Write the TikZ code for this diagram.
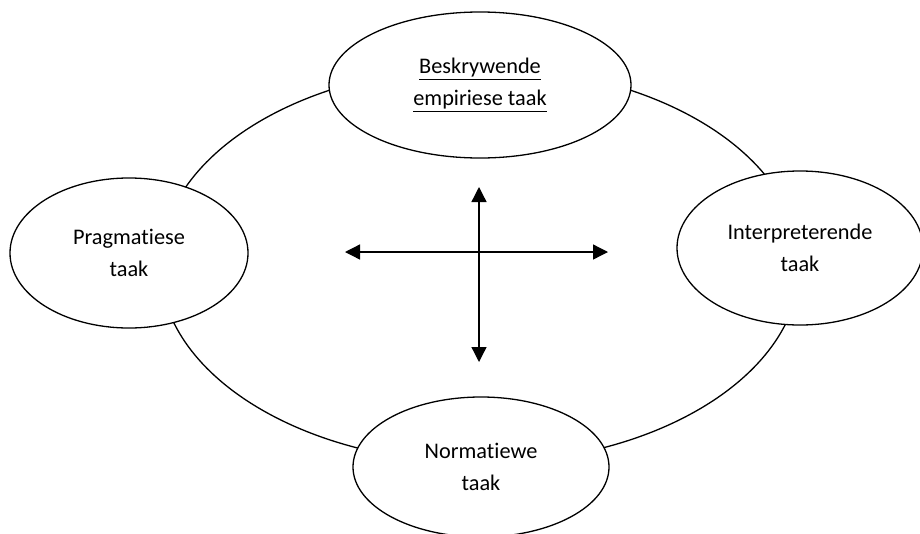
\documentclass[tikz,border=0pt]{standalone}
\usepackage{fontspec}
\setmainfont{Carlito}[Ligatures=CommonOff]
\usepackage{tikz}
\usetikzlibrary{shapes.geometric,arrows.meta}

\begin{document}
\begin{tikzpicture}[x=1pt, y=-1pt,
    task/.style={ellipse, draw, fill=white, line width=1.3pt, inner sep=0pt,
      align=center, font=\fontsize{22.3}{32}\selectfont},
    axis/.style={line width=1.3pt, {Triangle[length=15pt,width=15pt]}-{Triangle[length=15pt,width=15pt]}}]
  \useasboundingbox (0,0) rectangle (920,533);
  \node[ellipse, draw, line width=1.3pt, minimum width=640pt, minimum height=396pt] (ring) at (480, 265) {};
  \node[task, minimum width=302pt, minimum height=146pt] (top) at (480, 85)
    {\underline{Beskrywende}\\\underline{empiriese taak}};
  \node[task, minimum width=238pt, minimum height=150pt] (left) at (129, 253)
    {Pragmatiese\\taak};
  \node[task, minimum width=246pt, minimum height=154pt] (right) at (800, 248)
    {Interpreterende\\taak};
  \node[task, minimum width=256pt, minimum height=140pt] (bottom) at (481, 467)
    {Normatiewe\\taak};
  \coordinate (w) at (345, 252);
  \coordinate (e) at (608, 252);
  \coordinate (n) at (479, 187);
  \coordinate (s) at (479, 362);
  \draw[axis] (w) -- (e);
  \draw[axis] (n) -- (s);
\end{tikzpicture}
\end{document}
